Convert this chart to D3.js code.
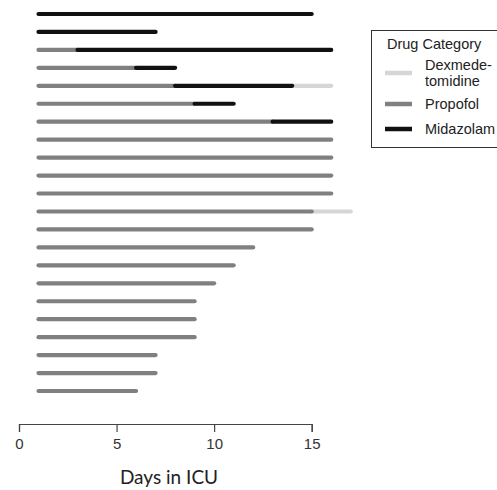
<!DOCTYPE html>
<html>
<head>
<meta charset="utf-8">
<script src="https://cdn.jsdelivr.net/npm/d3@7"></script>
<style>
  body { margin: 0; background: #fff; }
  svg { display: block; }
</style>
</head>
<body>
<div id="chart"></div>
<script>
// one row per patient, top to bottom
const patients = ["P1", "P2", "P3", "P4", "P5", "P6", "P7", "P8", "P9", "P10", "P11",
  "P12", "P13", "P14", "P15", "P16", "P17", "P18", "P19", "P20", "P21", "P22"];

// drug periods per patient as [start day, end day], null = not given
const dexmedetomidine = [null, null, null, null, [14, 16], null, null, null, null, null, null,
  [15, 17], null, null, null, null, null, null, null, null, null, null];
const propofol = [null, null, [1, 3], [1, 6], [1, 8], [1, 9], [1, 13], [1, 16], [1, 16], [1, 16], [1, 16],
  [1, 15], [1, 15], [1, 12], [1, 11], [1, 10], [1, 9], [1, 9], [1, 9], [1, 7], [1, 7], [1, 6]];
const midazolam = [[1, 15], [1, 7], [3, 16], [6, 8], [8, 14], [9, 11], [13, 16], null, null, null, null,
  null, null, null, null, null, null, null, null, null, null, null];

const drugNames = ["Dexmede-\ntomidine", "Propofol", "Midazolam"];
const drugColors = ["#d6d6d6", "#808080", "#111111"];
const xTicks = [0, 5, 10, 15];

const width = 497, height = 490;

const svg = d3.select("#chart")
  .append("svg")
  .attr("width", width)
  .attr("height", height);

const x = d3.scaleLinear().domain([0, 15]).range([19, 311.7]);
const y = d3.scalePoint().domain(patients).range([14, 391]);

// drawing order: dexmedetomidine under propofol under midazolam
const series = [dexmedetomidine, propofol, midazolam];
series.forEach((arr, i) => {
  const segs = patients
    .map((p, j) => ({ p, d: arr[j] }))
    .filter((s) => s.d);
  svg.append("g")
    .selectAll("line")
    .data(segs)
    .join("line")
    .attr("x1", (s) => x(s.d[0]))
    .attr("x2", (s) => x(s.d[1]))
    .attr("y1", (s) => y(s.p))
    .attr("y2", (s) => y(s.p))
    .attr("stroke", drugColors[i])
    .attr("stroke-width", 4.2)
    .attr("stroke-linecap", "round");
});

// x axis
const axis = svg.append("g")
  .attr("transform", "translate(0,424)")
  .call(d3.axisBottom(x).tickValues(xTicks).tickSizeOuter(0).tickSize(8).tickPadding(6));
axis.select(".domain").attr("stroke", "#444").attr("stroke-width", 1.2);
axis.selectAll(".tick line").attr("stroke", "#444").attr("stroke-width", 1.2);
axis.selectAll(".tick text")
  .attr("font-family", "Liberation Sans, Arial, sans-serif")
  .attr("font-size", 15)
  .attr("fill", "#333");

svg.append("text")
  .attr("x", 169)
  .attr("y", 484)
  .attr("text-anchor", "middle")
  .attr("font-family", "Lato, Open Sans, sans-serif")
  .attr("font-size", 19)
  .attr("fill", "#222")
  .text("Days in ICU");

// legend
const lg = svg.append("g")
  .attr("font-family", "Liberation Sans, Arial, sans-serif")
  .attr("font-size", 14.5)
  .attr("fill", "#222");

lg.append("rect")
  .attr("x", 371.5)
  .attr("y", 30.5)
  .attr("width", 140)
  .attr("height", 117)
  .attr("fill", "none")
  .attr("stroke", "#333")
  .attr("stroke-width", 1);

lg.append("text")
  .attr("x", 387)
  .attr("y", 49)
  .text("Drug Category");

const itemY = [73, 104, 129];
drugNames.forEach((name, i) => {
  lg.append("line")
    .attr("x1", 385)
    .attr("x2", 412)
    .attr("y1", itemY[i])
    .attr("y2", itemY[i])
    .attr("stroke", drugColors[i])
    .attr("stroke-width", 4.5);
  const lines = name.split("\n");
  const t = lg.append("text")
    .attr("x", 425)
    .attr("y", itemY[i] + 5 - (lines.length - 1) * 8);
  lines.forEach((l, k) => {
    t.append("tspan").attr("x", 425).attr("dy", k ? 16 : 0).text(l);
  });
});
</script>
</body>
</html>
